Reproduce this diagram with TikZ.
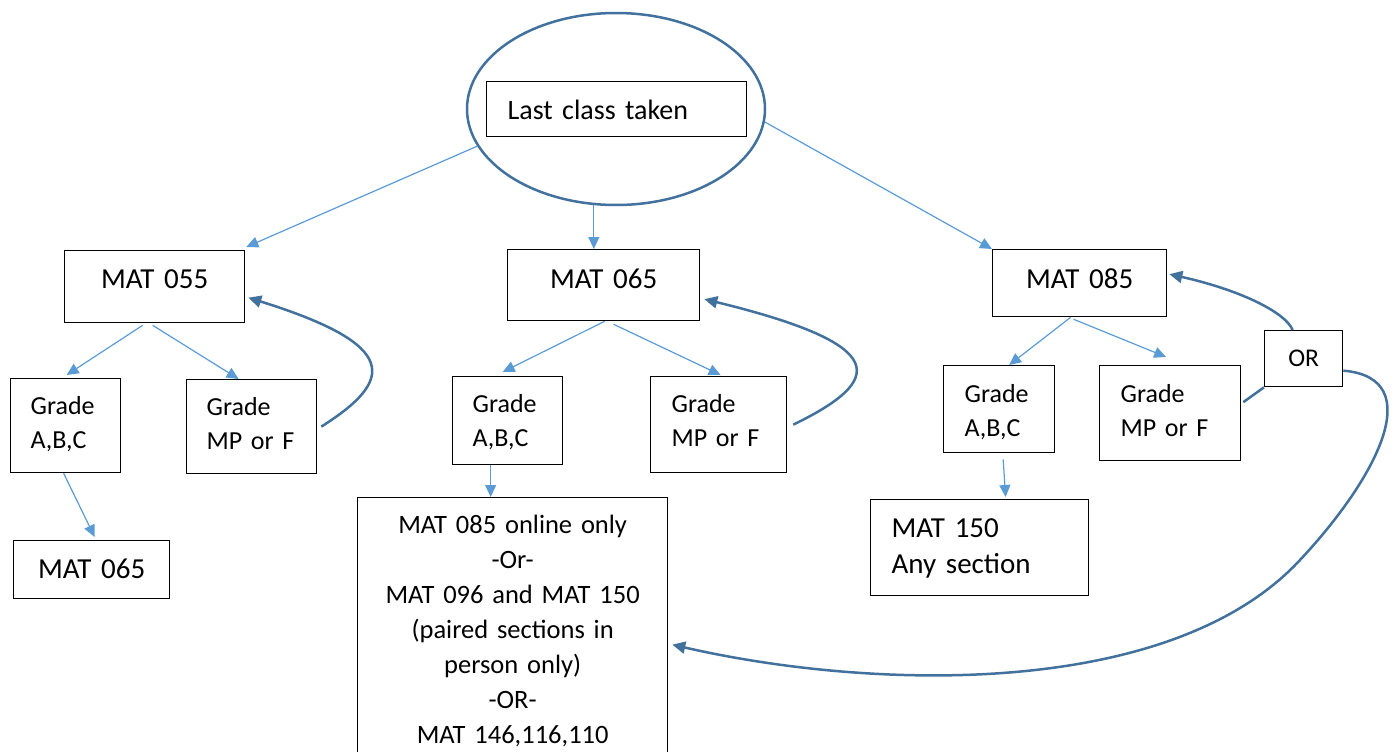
\documentclass[tikz,border=0pt]{standalone}
\usepackage{fontspec}
\setmainfont{Carlito}
\usetikzlibrary{shapes.geometric,arrows.meta}

\definecolor{lblue}{HTML}{5B9BD5}
\definecolor{dblue}{HTML}{41719C}

\tikzset{
  box/.style={draw=black, line width=1.3pt, inner ysep=0pt, anchor=north west},
  mat/.style={box, align=center, inner xsep=0pt, font=\fontsize{29}{36}\selectfont},
  grade/.style={box, align=left, inner xsep=21pt, font=\fontsize{26}{33.5}\selectfont},
  link/.style={draw=lblue, line width=1.2pt, -{Triangle[length=12pt,width=11pt]}},
  back/.style={draw=dblue, line width=2.5pt, -{Triangle[length=13pt,width=12pt]}}
}

\begin{document}
\begin{tikzpicture}[x=1pt,y=-1pt]
\useasboundingbox (0,0) rectangle (1400,752);

\node[ellipse, draw=dblue, line width=2.5pt, minimum width=298pt, minimum height=192pt, inner sep=0pt] (ell) at (616,109) {};
\node[box, align=left, inner xsep=21pt, text width=218pt, text height=38pt, text depth=17pt, font=\fontsize{28}{34}\selectfont] (last) at (486,81) {Last class taken};

\node[mat, text width=180pt, text height=38pt, text depth=34pt] (m55) at (64,250) {MAT 055};
\node[mat, text width=192pt, text height=39pt, text depth=32pt] (m65) at (507,249) {MAT 065};
\node[mat, text width=174pt, text height=39pt, text depth=28pt] (m85) at (992,249) {MAT 085};

\node[grade, inner xsep=20pt, text width=70pt, text height=36pt, text depth=58pt] (gA1) at (10,378) {Grade\\A,B,C};
\node[grade, inner xsep=20pt, text width=90pt, text height=36pt, text depth=58pt] (gF1) at (186,379) {Grade\\MP or F};
\node[mat, text width=156pt, text height=38pt, text depth=20pt] (m65b) at (13,540) {MAT 065};

\node[grade, inner xsep=20pt, text width=70pt, text height=36pt, text depth=52pt] (gA2) at (452,376) {Grade\\A,B,C};
\node[grade, text width=94pt, text height=36pt, text depth=60pt] (gF2) at (650,376) {Grade\\MP or F};
\node[mat, text width=310pt, text height=36pt, text depth=239pt, font=\fontsize{26.5}{35}\selectfont] (big) at (357,497)
  {MAT 085 online only\\-Or-\\MAT 096 and MAT 150\\(paired sections in\\person only)\\-OR-\\MAT 146,116,110};

\node[grade, text width=69pt, text height=37pt, text depth=50pt] (gA3) at (943,365) {Grade\\A,B,C};
\node[grade, text width=99pt, text height=37pt, text depth=58pt] (gF3) at (1099,365) {Grade\\MP or F};
\node[mat, text width=78pt, text height=36pt, text depth=20pt, font=\fontsize{25.5}{30}\selectfont] (orb) at (1264,330) {OR};
\node[box, align=left, inner xsep=21pt, text width=176pt, text height=38pt, text depth=58pt, font=\fontsize{29}{36}\selectfont] (m150) at (870,499) {MAT 150\\Any section};

\draw[link] (ell.195) -- ([xshift=1pt,yshift=3pt]m55.north east);
\draw[link] (ell.257) -- (ell.257 |- m65.north);
\draw[link] (ell.-5) -- (m85.north west);

\draw[link] ([xshift=-12pt,yshift=-2pt]m55.south) -- ([xshift=1pt,yshift=3pt]gA1.north);
\draw[link] ([xshift=-2pt,yshift=-2pt]m55.south) -- ([xshift=-13pt]gF1.north);
\draw[link] ([xshift=-2pt]gA1.south) -- ([xshift=3pt,yshift=3pt]m65b.north);

\draw[link] ([xshift=1pt]m65.south) -- ([xshift=-5pt,yshift=4pt]gA2.north);
\draw[link] ([xshift=10pt,yshift=-3pt]m65.south) -- ([xshift=2pt,yshift=1pt]gF2.north);
\draw[link] ([xshift=-17pt]gA2.south) -- ([xshift=-17pt]gA2.south |- big.north);

\draw[link] ([xshift=-9pt]m85.south) -- ([xshift=10pt]gA3.north);
\draw[link] ([xshift=-6pt,yshift=-2pt]m85.south) -- ([xshift=-4pt,yshift=8pt]gF3.north);
\draw[link] ([xshift=4pt,yshift=-6pt]gA3.south) -- ([xshift=26pt,yshift=2pt]m150.north);

\draw[back] ([xshift=4pt]gF1.east) .. controls (395,380) and (400,345) .. ([xshift=3pt,yshift=-11pt]m55.east);
\draw[back] ([xshift=6pt]gF2.east) .. controls (885,380) and (892,345) .. ([xshift=4pt,yshift=-14pt]m65.east);
\draw[back] ([xshift=-11pt]orb.north) .. controls (1285,312) and (1240,290) .. ([xshift=2pt,yshift=9pt]m85.east);
\draw[draw=dblue, line width=2.5pt] ([xshift=2pt,yshift=11pt]gF3.east) -- (orb.south west);
\draw[back] ([yshift=-12pt]orb.east) .. controls (1430,378) and (1375,480) .. (1300,560)
  .. controls (1170,700) and (870,690) .. ([xshift=4pt,yshift=-9.5pt]big.east);

\end{tikzpicture}
\end{document}
